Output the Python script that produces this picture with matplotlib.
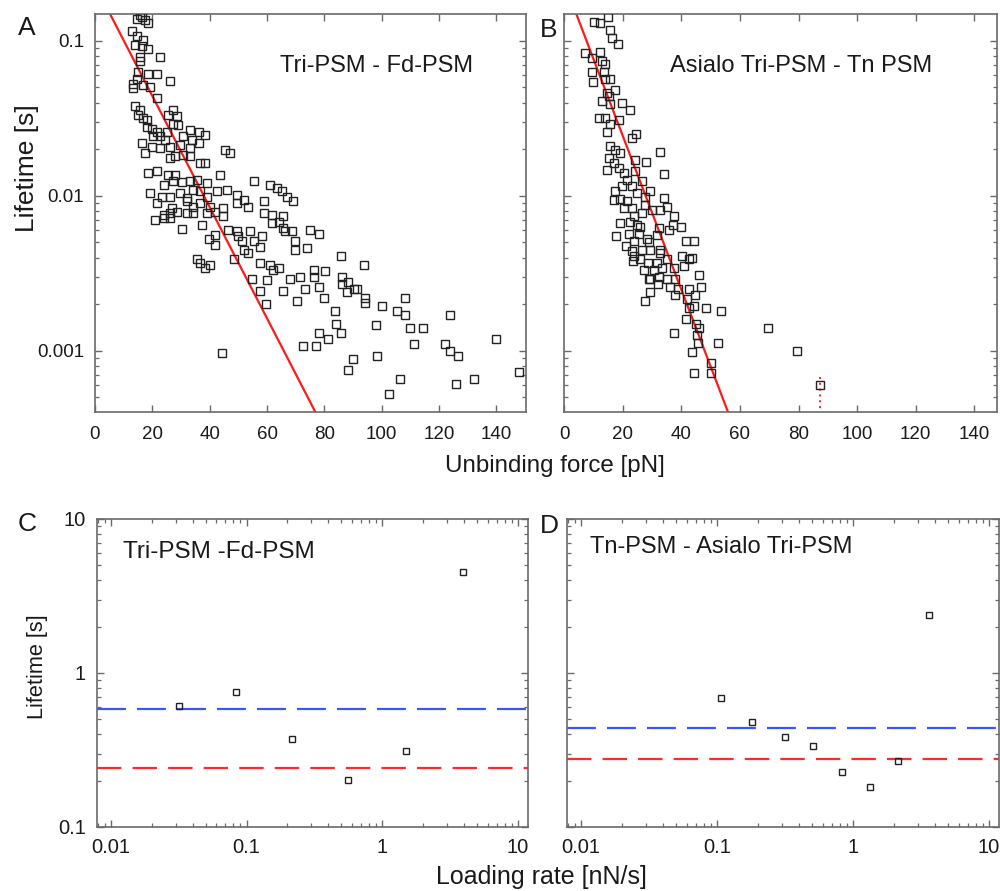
import numpy as np
import matplotlib
matplotlib.use("Agg")
import matplotlib.pyplot as plt
from matplotlib.ticker import LogLocator, NullFormatter, FixedLocator

plt.rcParams['font.family'] = ['Liberation Sans', 'DejaVu Sans']

# ---------------- Panel A : Tri-PSM - Fd-PSM ----------------
force_A = [15.7, 16.3, 14.5, 17.5, 18.6, 12.8, 14.5, 16.9, 14.0, 16.3, 18.6, 22.7, 15.7, 15.7,
           15.1, 18.6, 21.5, 26.2, 14.5, 13.4, 16.9, 19.2, 13.4, 21.5, 14.0, 15.7, 15.1, 16.9,
           18.0, 27.3, 25.6, 28.5, 27.3, 18.0, 19.8, 21.5, 25.0, 29.1, 33.2, 36.1, 38.4, 20.4,
           22.7, 24.4, 30.8, 33.7, 16.3, 19.8, 17.5, 22.7, 26.2, 29.7, 33.2, 36.1, 45.4, 47.1,
           26.2, 27.9, 30.8, 33.2, 36.6, 38.4, 18.6, 21.5, 25.6, 27.9, 23.9, 27.3, 30.3, 33.2,
           35.5, 39.0, 43.6, 55.3, 61.1, 63.4, 65.2, 66.9, 69.2, 19.2, 23.3, 26.2, 29.7, 32.0,
           34.3, 36.6, 39.0, 42.5, 46.0, 49.4, 51.8, 58.8, 21.5, 26.8, 32.0, 34.3, 36.6, 40.1,
           44.8, 49.4, 53.5, 23.9, 26.2, 28.5, 32.0, 34.3, 39.0, 41.9, 44.8, 58.8, 61.7, 65.7,
           20.9, 23.9, 26.2, 30.3, 37.2, 39.6, 41.9, 41.9, 46.5, 49.4, 50.0, 51.2, 54.1, 51.8,
           53.5, 55.3, 57.6, 58.2, 61.7, 64.0, 65.7, 66.3, 68.6, 69.8, 69.8, 73.9, 75.0, 78.0,
           35.5, 36.6, 38.4, 40.1, 48.3, 57.6, 61.1, 62.2, 64.0, 54.7, 59.9, 57.6, 59.7, 65.5,
           68.1, 70.4, 71.6, 73.3, 76.2, 76.2, 78.0, 79.7, 80.3, 44.2, 72.7, 77.1, 78.1, 81.4,
           85.7, 93.9, 86.1, 88.4, 86.1, 90.2, 91.3, 87.8, 94.2, 94.2, 100.1, 105.3, 108.2, 108.2,
           83.8, 98.1, 109.9, 114.4, 123.9, 84.0, 85.7, 111.3, 122.2, 123.9, 126.5, 140.0, 89.9,
           98.3, 88.4, 106.2, 102.4, 125.8, 132.3, 147.8]
life_A = [0.147, 0.1435, 0.138, 0.137, 0.131, 0.115, 0.107, 0.1015, 0.094, 0.092, 0.088, 0.079,
          0.079, 0.074, 0.063, 0.061, 0.061, 0.055, 0.057, 0.053, 0.052, 0.050, 0.0495, 0.043,
          0.038, 0.036, 0.033, 0.032, 0.031, 0.036, 0.033, 0.0325, 0.029, 0.028, 0.027, 0.026,
          0.026, 0.0287, 0.0267, 0.026, 0.0248, 0.0242, 0.0242, 0.023, 0.0242, 0.023, 0.0219,
          0.0208, 0.0189, 0.0203, 0.0208, 0.0213, 0.0203, 0.0219, 0.0198, 0.019, 0.0175, 0.018,
          0.0184, 0.018, 0.0163, 0.0163, 0.014, 0.0144, 0.0137, 0.0137, 0.0118, 0.0124, 0.0122,
          0.0124, 0.0127, 0.0121, 0.0137, 0.0124, 0.0118, 0.0112, 0.0107, 0.0099, 0.0092, 0.0104,
          0.0099, 0.0099, 0.0104, 0.0097, 0.0109, 0.0107, 0.0099, 0.0107, 0.0109, 0.0101, 0.0094,
          0.0092, 0.0090, 0.0083, 0.0092, 0.0085, 0.0090, 0.0085, 0.0083, 0.0090, 0.0085, 0.0075,
          0.0077, 0.0079, 0.0077, 0.0077, 0.0077, 0.0079, 0.0074, 0.0077, 0.0075, 0.0074,
          0.0070, 0.0072, 0.0072, 0.0061, 0.0065, 0.0053, 0.0056, 0.0048, 0.0060, 0.0059, 0.0055,
          0.0051, 0.0059, 0.0045, 0.0043, 0.0051, 0.0047, 0.0055, 0.0067, 0.0068, 0.0062, 0.0059,
          0.0059, 0.0051, 0.0045, 0.0046, 0.0060, 0.0057, 0.0039, 0.0037, 0.0034, 0.0036, 0.0039,
          0.0037, 0.0036, 0.0033, 0.0034, 0.0029, 0.00285, 0.00245, 0.0020, 0.00245, 0.0029,
          0.0021, 0.0030, 0.0025, 0.0033, 0.0030, 0.0026, 0.0022, 0.00325, 0.00097, 0.00107,
          0.00108, 0.0013, 0.0012, 0.0041, 0.0036, 0.0030, 0.0028, 0.0027, 0.0025, 0.0025, 0.0024,
          0.0022, 0.00205, 0.00195, 0.0018, 0.0022, 0.0017, 0.0018, 0.00146, 0.0014, 0.0014,
          0.0017, 0.0015, 0.0013, 0.0011, 0.0011, 0.0010, 0.00093, 0.0012, 0.00089, 0.00092,
          0.00075, 0.00066, 0.00053, 0.00061, 0.00066, 0.00073]
fit_A_tau0 = 0.23      # s
fit_A_k = 0.0826       # 1/pN

# ---------------- Panel B : Asialo Tri-PSM - Tn PSM ----------------
force_B = [10.1, 12.4, 15.0, 15.8, 16.4, 18.3, 7.3, 12.4, 9.6, 13.0, 14.1, 9.6, 13.5, 9.8, 14.1,
           15.8, 14.7, 17.5, 13.0, 15.2, 15.8, 19.8, 22.6, 11.8, 14.1, 15.8, 18.6, 14.7, 23.2,
           24.7, 15.8, 17.5, 15.2, 19.2, 32.6, 24.3, 28.1, 14.7, 16.9, 18.6, 20.4, 21.5, 24.3,
           34.0, 17.5, 19.8, 23.2, 26.6, 16.9, 19.2, 21.5, 24.9, 27.7, 29.4, 34.0, 20.4, 23.2,
           27.7, 30.0, 32.8, 35.1, 37.4, 23.8, 26.6,
           19.2, 22.4, 24.9, 26.0, 32.3, 35.7, 37.2, 39.9, 17.9, 22.1, 25.5, 28.3, 31.7, 21.3,
           23.8, 23.2, 26.6, 28.9, 29.4, 32.8, 32.8, 41.7, 44.2, 23.5, 26.0, 28.5, 23.8, 31.7,
           35.1, 40.2, 43.6, 27.2, 30.6, 33.4, 37.4, 41.1, 42.5, 29.4, 32.3, 28.9, 31.9, 35.1,
           37.9, 36.3, 38.8, 37.9, 29.2, 27.7, 42.5, 44.8, 46.2, 46.7, 41.9, 44.5, 42.8, 48.5,
           53.5, 41.5, 37.4, 45.1, 46.2, 45.3, 45.8, 52.7, 43.7, 50.1, 44.2, 50.1,
           69.5, 79.4, 87.4]
life_B = [0.133, 0.131, 0.1435, 0.117, 0.104, 0.095, 0.084, 0.0845, 0.077, 0.074, 0.071, 0.063,
          0.063, 0.054, 0.057, 0.057, 0.046, 0.048, 0.041, 0.044, 0.039, 0.040, 0.036, 0.032,
          0.032, 0.029, 0.031, 0.026, 0.0236, 0.025, 0.021, 0.0198, 0.0175, 0.0189, 0.0193,
          0.0171, 0.0165, 0.0146, 0.0163, 0.0151, 0.014, 0.0127, 0.0144, 0.0139, 0.0107, 0.0115,
          0.0115, 0.0124, 0.0094, 0.0095, 0.0092, 0.0104, 0.0099, 0.0108, 0.0097, 0.0083, 0.0083,
          0.0087, 0.0081, 0.0081, 0.0085, 0.0074, 0.0074, 0.0077,
          0.0067, 0.0068, 0.0065, 0.0063, 0.0062, 0.0060, 0.0065, 0.0063, 0.0055, 0.0057, 0.0057,
          0.0053, 0.0056, 0.00475, 0.0051, 0.0044, 0.0045, 0.0050, 0.0045, 0.0045, 0.0043,
          0.0051, 0.0051, 0.0038, 0.0039, 0.0037, 0.0041, 0.0037, 0.0039, 0.0041, 0.0040, 0.0033,
          0.0033, 0.0034, 0.0034, 0.0035, 0.0039, 0.0029, 0.0030, 0.0029, 0.0027, 0.0029, 0.0029,
          0.0026, 0.0025, 0.0023, 0.0024, 0.0021, 0.0025, 0.0023, 0.0031, 0.0026, 0.00215,
          0.00195, 0.0019, 0.0019, 0.0018, 0.0016, 0.0013, 0.0015, 0.0014, 0.00127, 0.00113,
          0.00113, 0.00099, 0.00083, 0.00072, 0.00072,
          0.00141, 0.0010, 0.0006]
fit_B_tau0 = 0.241     # s
fit_B_k = 0.1143       # 1/pN
marker_B_force = 87.4
marker_B_top = 0.00068

# ---------------- Panel C : Tri-PSM -Fd-PSM ----------------
rate_C = [0.032, 0.084, 0.215, 0.56, 1.49, 3.96]
life_C = [0.61, 0.75, 0.373, 0.201, 0.313, 4.5]
blue_C = 0.58
red_C = 0.243

# ---------------- Panel D : Tn-PSM - Asialo Tri-PSM ----------------
rate_D = [0.108, 0.18, 0.317, 0.507, 0.83, 1.33, 2.15, 3.61]
life_D = [0.688, 0.479, 0.382, 0.337, 0.226, 0.181, 0.267, 2.38]
blue_D = 0.44
red_D = 0.278

force_ticks = [0, 20, 40, 60, 80, 100, 120, 140]
life_ticks_AB = [0.001, 0.01, 0.1]
life_labels_AB = ['0.001', '0.01', '0.1']
rate_ticks = [0.01, 0.1, 1, 10]
rate_labels = ['0.01', '0.1', '1', '10']
life_ticks_CD = [0.1, 1, 10]
life_labels_CD = ['0.1', '1', '10']

W, H = 1000, 891
fig = plt.figure(figsize=(W / 100, H / 100), dpi=100)


def box(l, t, r, b):
    return [l / W, 1 - b / H, (r - l) / W, (b - t) / H]


axA = fig.add_axes(box(95, 14, 526, 412))
axB = fig.add_axes(box(564, 14, 997, 412))
axC = fig.add_axes(box(97, 519, 528, 827))
axD = fig.add_axes(box(567, 519, 999, 827))

spine_col = '#6a6a6a'
txt_col = '#1a1a1a'
mk_col = '#222222'


def style(ax, lab_size, xpad):
    for s in ax.spines.values():
        s.set_color(spine_col)
        s.set_linewidth(1.2)
    ax.tick_params(which='both', direction='in', top=True, right=True,
                   color=spine_col, labelcolor=txt_col, labelsize=lab_size)
    ax.tick_params(which='major', length=5, width=1.0, pad=8)
    ax.tick_params(axis='x', which='major', pad=xpad)
    ax.tick_params(which='minor', length=3, width=0.9)


F = np.linspace(0, 150, 300)
for ax, fx, fy, t0, k in [(axA, force_A, life_A, fit_A_tau0, fit_A_k),
                          (axB, force_B, life_B, fit_B_tau0, fit_B_k)]:
    ax.set_yscale('log')
    ax.plot(fx, fy, linestyle='none', marker='s', markersize=6.2,
            markerfacecolor='none', markeredgecolor=mk_col, markeredgewidth=1.0, zorder=3)
    ax.plot(F, t0 * np.exp(-k * F), color='#ff1a1a', lw=1.6, zorder=2)
    ax.set_ylim(0.000403, 0.149)
    ax.xaxis.set_major_locator(FixedLocator(force_ticks))
    ax.set_yticks(life_ticks_AB)
    ax.yaxis.set_minor_locator(LogLocator(base=10, subs=np.arange(2, 10), numticks=10))
    ax.yaxis.set_minor_formatter(NullFormatter())
    style(ax, 13.5, 10)

axA.set_xlim(0, 150.3)
axB.set_xlim(0, 147.7)
axA.set_yticklabels(life_labels_AB)
axB.set_yticklabels([''] * len(life_ticks_AB))
axB.plot([marker_B_force, marker_B_force], [marker_B_top, 0.0004], color='#ff1a1a',
         lw=1.4, linestyle=(0, (1, 2)), zorder=2)

for ax, rx, ry, yb, yr in [(axC, rate_C, life_C, blue_C, red_C),
                           (axD, rate_D, life_D, blue_D, red_D)]:
    ax.set_xscale('log')
    ax.set_yscale('log')
    ax.plot(rx, ry, linestyle='none', marker='s', markersize=5.0,
            markerfacecolor='none', markeredgecolor=mk_col, markeredgewidth=1.0, zorder=3)
    ax.axhline(yb, color='#3a55ff', lw=1.6, dashes=(13, 5))
    ax.axhline(yr, color='#ff2a2a', lw=1.6, dashes=(11, 5))
    ax.set_xlim(0.0079, 11.9)
    ax.set_ylim(0.1, 10)
    ax.set_xticks(rate_ticks)
    ax.set_xticklabels(rate_labels)
    ax.xaxis.set_minor_locator(LogLocator(base=10, subs=np.arange(2, 10), numticks=10))
    ax.yaxis.set_minor_locator(LogLocator(base=10, subs=np.arange(2, 10), numticks=10))
    ax.xaxis.set_minor_formatter(NullFormatter())
    ax.yaxis.set_minor_formatter(NullFormatter())
    ax.set_yticks(life_ticks_CD)
    style(ax, 14.5, 8)

axC.set_yticklabels(life_labels_CD)
axD.set_yticklabels([''] * len(life_ticks_CD))


def ftext(x, y, s, size, **kw):
    fig.text(x / W, 1 - y / H, s, fontsize=size, color=txt_col, **kw)


# panel letters
ftext(27, 28, 'A', 19, ha='center', va='center')
ftext(549, 30, 'B', 19, ha='center', va='center')
ftext(27, 524, 'C', 19, ha='center', va='center')
ftext(549, 526, 'D', 19, ha='center', va='center')

# panel titles
ftext(280, 66, 'Tri-PSM - Fd-PSM', 17, ha='left', va='center')
ftext(670, 66, 'Asialo Tri-PSM - Tn PSM', 17, ha='left', va='center')
ftext(123, 552, 'Tri-PSM -Fd-PSM', 17.5, ha='left', va='center')
ftext(590, 547, 'Tn-PSM - Asialo Tri-PSM', 17, ha='left', va='center')

# axis labels
ftext(555, 466, 'Unbinding force [pN]', 17.4, ha='center', va='center')
ftext(541, 877, 'Loading rate [nN/s]', 18, ha='center', va='center')
ftext(27, 168, 'Lifetime [s]', 19, ha='center', va='center', rotation=90)
ftext(37, 667, 'Lifetime [s]', 15.7, ha='center', va='center', rotation=90)

fig.savefig('out.png', dpi=100)
